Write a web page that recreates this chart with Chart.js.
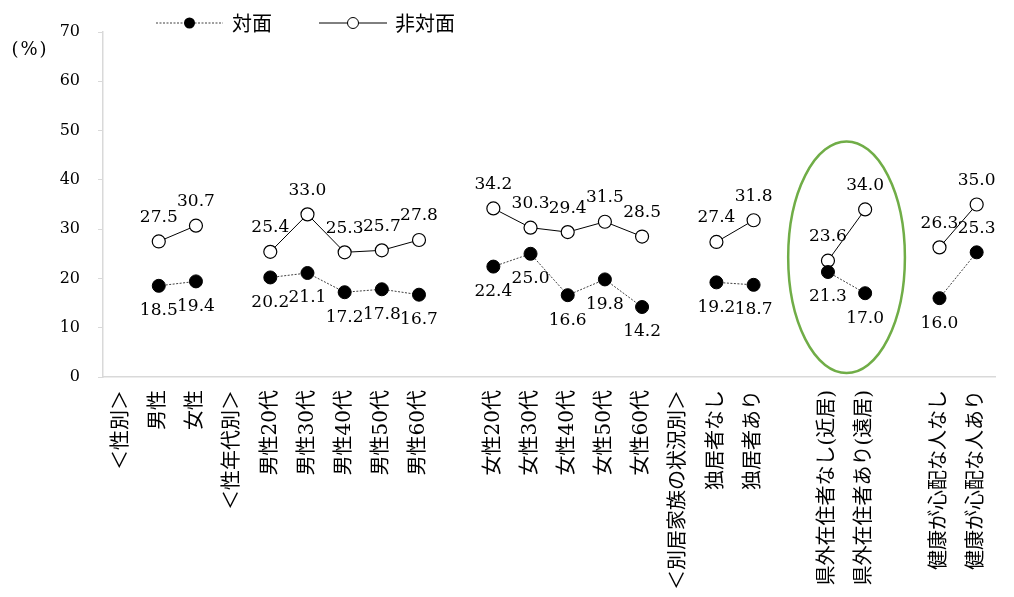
<!DOCTYPE html>
<html>
<head>
<meta charset="utf-8">
<script src="https://cdn.jsdelivr.net/npm/chart.js@4/dist/chart.umd.min.js"></script>
<style>
  html, body { margin: 0; padding: 0; background: #fff; }
  #wrap { position: relative; width: 1014px; height: 597px; }
</style>
</head>
<body>
<div id="wrap"><canvas id="c" width="1014" height="597"></canvas></div>
<script>
// Categories along the x axis (section headers and blank spacer slots carry no values)
const categories = [
  '＜性別＞', '男性', '女性',
  '＜性年代別＞', '男性20代', '男性30代', '男性40代', '男性50代', '男性60代',
  '', '女性20代', '女性30代', '女性40代', '女性50代', '女性60代',
  '＜別居家族の状況別＞', '独居者なし', '独居者あり',
  '', '県外在住者なし(近居)', '県外在住者あり(遠居)',
  '', '健康が心配な人なし', '健康が心配な人あり'
];

// 対面 (%)
const faceToFace = [
  null, 18.5, 19.4,
  null, 20.2, 21.1, 17.2, 17.8, 16.7,
  null, 22.4, 25.0, 16.6, 19.8, 14.2,
  null, 19.2, 18.7,
  null, 21.3, 17.0,
  null, 16.0, 25.3
];

// 非対面 (%)
const nonFace = [
  null, 27.5, 30.7,
  null, 25.4, 33.0, 25.3, 25.7, 27.8,
  null, 34.2, 30.3, 29.4, 31.5, 28.5,
  null, 27.4, 31.8,
  null, 23.6, 34.0,
  null, 26.3, 35.0
];

// y axis tick values
const yTicks = [0, 10, 20, 30, 40, 50, 60, 70];

// Value labels of 対面 sit below their point, except where marked 'above'
const faceLabelSide = categories.map((c, i) => i === 23 ? 'above' : 'below');

const SERIF = "'DejaVu Serif', 'Noto Sans CJK JP', serif";
const CJK = "'Noto Sans CJK JP', 'DejaVu Serif', sans-serif";
const AXIS_GREY = '#d9d9d9';

// Value labels next to each point
const valueLabels = {
  id: 'valueLabels',
  afterDatasetsDraw(chart) {
    const ctx = chart.ctx;
    ctx.save();
    ctx.fillStyle = '#000';
    ctx.font = '17px ' + SERIF;
    ctx.textAlign = 'center';
    ctx.textBaseline = 'middle';
    chart.data.datasets.forEach((ds, di) => {
      const meta = chart.getDatasetMeta(di);
      meta.data.forEach((pt, j) => {
        const v = ds.data[j];
        if (v === null || v === undefined) return;
        const side = di === 0 ? faceLabelSide[j] : 'above';
        const y = side === 'above' ? pt.y - 24 : pt.y + 25;
        ctx.fillText(v.toFixed(1), pt.x, y);
      });
    });
    ctx.restore();
  }
};

// Green ring highlighting the 県外在住者 pair
const highlightRing = {
  id: 'highlightRing',
  afterDatasetsDraw(chart) {
    const x = chart.scales.x, y = chart.scales.y;
    const step = x.getPixelForValue(20) - x.getPixelForValue(19);
    const cx = (x.getPixelForValue(19) + x.getPixelForValue(20)) / 2;
    const cy = y.getPixelForValue(24.3);
    const rx = step * 1.57;
    const ry = y.getPixelForValue(0) - y.getPixelForValue(23.5);
    const ctx = chart.ctx;
    ctx.save();
    ctx.strokeStyle = '#70ad47';
    ctx.lineWidth = 2.5;
    ctx.beginPath();
    ctx.ellipse(cx, cy, rx, ry, 0, 0, Math.PI * 2);
    ctx.stroke();
    ctx.restore();
  }
};

// Legend with line + marker samples, and the unit caption
const legendAndUnit = {
  id: 'legendAndUnit',
  afterDraw(chart) {
    const ctx = chart.ctx;
    ctx.save();
    const ly = 23;
    // 対面
    ctx.strokeStyle = '#404040';
    ctx.lineWidth = 1;
    ctx.setLineDash([2, 1.5]);
    ctx.beginPath(); ctx.moveTo(156, ly); ctx.lineTo(223, ly); ctx.stroke();
    ctx.setLineDash([]);
    ctx.fillStyle = '#000';
    ctx.beginPath(); ctx.arc(189.5, ly, 5.5, 0, Math.PI * 2); ctx.fill();
    // 非対面
    ctx.strokeStyle = '#000';
    ctx.beginPath(); ctx.moveTo(319, ly); ctx.lineTo(387, ly); ctx.stroke();
    ctx.fillStyle = '#fff';
    ctx.beginPath(); ctx.arc(353, ly, 5.5, 0, Math.PI * 2); ctx.fill(); ctx.stroke();

    ctx.fillStyle = '#000';
    ctx.font = '20px ' + CJK;
    ctx.textAlign = 'left';
    ctx.textBaseline = 'middle';
    ctx.fillText('対面', 232, ly);
    ctx.fillText('非対面', 395, ly);

    // unit caption (%)
    ctx.font = '18px ' + SERIF;
    ctx.textAlign = 'center';
    ctx.fillText('(', 15, 50);
    ctx.fillText('%', 29, 50);
    ctx.fillText(')', 43, 50);
    ctx.restore();
  }
};

new Chart(document.getElementById('c'), {
  type: 'line',
  data: {
    labels: categories,
    datasets: [
      {
        label: '対面',
        data: faceToFace,
        borderColor: '#404040',
        borderWidth: 1,
        borderDash: [2, 1.5],
        pointRadius: 6.5,
        pointBackgroundColor: '#000',
        pointBorderColor: '#000',
        pointBorderWidth: 1,
        spanGaps: false,
        tension: 0
      },
      {
        label: '非対面',
        data: nonFace,
        borderColor: '#000',
        borderWidth: 1,
        pointRadius: 6.5,
        pointBackgroundColor: '#fff',
        pointBorderColor: '#000',
        pointBorderWidth: 1.2,
        spanGaps: false,
        tension: 0
      }
    ]
  },
  options: {
    responsive: false,
    animation: false,
    layout: { padding: { left: 0, top: 32, right: 16, bottom: 0 } },
    plugins: { legend: { display: false }, tooltip: { enabled: false } },
    scales: {
      x: {
        offset: true,
        grid: { display: true, drawOnChartArea: false, drawTicks: false },
        border: { color: AXIS_GREY, width: 1.5 },
        ticks: {
          autoSkip: false,
          minRotation: 90,
          maxRotation: 90,
          padding: 13,
          color: '#000',
          font: { family: SERIF, size: 20 }
        },
        afterFit(s) { s.height = 220; }
      },
      y: {
        min: 0,
        max: 70,
        afterBuildTicks(s) { s.ticks = yTicks.map(v => ({ value: v })); },
        grid: { display: true, drawOnChartArea: false, drawTicks: true, tickLength: 5, color: AXIS_GREY },
        border: { color: AXIS_GREY, width: 1.5 },
        ticks: { padding: 18, color: '#000', font: { family: SERIF, size: 16 } },
        afterFit(s) { s.width = 103; }
      }
    }
  },
  plugins: [valueLabels, highlightRing, legendAndUnit]
});
</script>
</body>
</html>
